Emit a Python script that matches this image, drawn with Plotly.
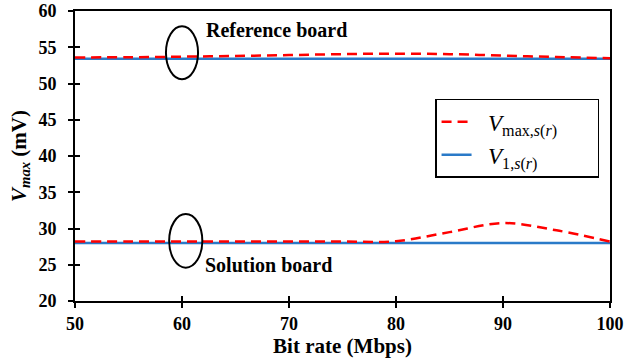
import plotly.graph_objects as go

bit_rate = [50, 55, 60, 65, 70, 75, 80, 85, 90, 95, 100]
ref_vmax = [53.6, 53.62, 53.7, 53.8, 53.92, 54.05, 54.12, 54.05, 53.85, 53.65, 53.5]
ref_v1 = [53.4] * 11
sol_vmax = [28.2, 28.2, 28.2, 28.2, 28.2, 28.2, 28.25, 29.5, 30.75, 29.75, 28.2]
sol_v1 = [28.0] * 11

x_ticks = [50, 60, 70, 80, 90, 100]
y_ticks = [20, 25, 30, 35, 40, 45, 50, 55, 60]

labels = ["Reference board", "Solution board"]
label_pos = [(62.1, 57.4), (62.0, 24.9)]
ellipses = [(58.5, 50.6, 61.5, 57.9), (58.8, 24.6, 61.9, 32.0)]

RED = "#FF0000"
BLUE = "#2A7AC8"
FONT = "Liberation Serif"

fig = go.Figure()
fig.add_trace(go.Scatter(x=bit_rate, y=ref_v1, mode="lines", line=dict(color=BLUE, width=2.5),
                         showlegend=False))
fig.add_trace(go.Scatter(x=bit_rate, y=ref_vmax, mode="lines",
                         line=dict(color=RED, width=2.5, dash="10px,6px", shape="spline"),
                         showlegend=False))
fig.add_trace(go.Scatter(x=bit_rate, y=sol_v1, mode="lines", line=dict(color=BLUE, width=2.5),
                         name="  <i>V</i><sub>1,<i>s</i>(<i>r</i>)</sub>      ", legendrank=2))
fig.add_trace(go.Scatter(x=bit_rate, y=sol_vmax, mode="lines",
                         line=dict(color=RED, width=2.5, dash="10px,6px", shape="spline"),
                         name="  <i>V</i><sub>max,<i>s</i>(<i>r</i>)</sub>      ", legendrank=1))

for (x0, y0, x1, y1) in ellipses:
    fig.add_shape(type="circle", xref="x", yref="y", x0=x0, y0=y0, x1=x1, y1=y1,
                  line=dict(color="black", width=2))

for text, (lx, ly) in zip(labels, label_pos):
    fig.add_annotation(x=lx, y=ly, text="<b>" + text + "</b>", showarrow=False,
                       xanchor="left", yanchor="middle",
                       font=dict(family=FONT, size=20, color="black"))

axis_common = dict(showgrid=False, zeroline=False, linecolor="black", linewidth=2,
                   ticks="outside", ticklen=5, tickwidth=2, tickcolor="black",
                   tickfont=dict(family=FONT, size=18, color="black"),
                   mirror=True, automargin=False)

fig.update_layout(
    width=625, height=363,
    margin=dict(l=75, r=15, t=11, b=62),
    plot_bgcolor="white", paper_bgcolor="white",
    xaxis=dict(range=[50, 100], tickvals=x_ticks,
               ticktext=["<b>%d</b>" % v for v in x_ticks], **axis_common,
               title=dict(text="<b>Bit rate (Mbps)</b>", standoff=4,
                          font=dict(family=FONT, size=21, color="black"))),
    yaxis=dict(range=[20, 60], tickvals=y_ticks,
               ticktext=["<b>%d</b>" % v for v in y_ticks], ticklabelstandoff=8, **axis_common,
               title=dict(text="<b><i>V<sub>max</sub></i> (mV)</b>", standoff=6,
                          font=dict(family=FONT, size=21, color="black"))),
    xaxis2=dict(overlaying="x", range=[50, 100], tickvals=x_ticks, ticks="inside",
                ticklen=5, tickwidth=2, tickcolor="black", showticklabels=False,
                showgrid=False, zeroline=False, showline=False, automargin=False),
    yaxis2=dict(overlaying="y", range=[20, 60], tickvals=y_ticks, ticks="inside",
                ticklen=5, tickwidth=2, tickcolor="black", showticklabels=False,
                showgrid=False, zeroline=False, showline=False, automargin=False),
    legend=dict(x=0.673, y=0.697, xanchor="left", yanchor="top",
                bordercolor="black", borderwidth=1.5, bgcolor="white",
                font=dict(family=FONT, size=23, color="black"),
                itemwidth=30, tracegroupgap=0),
)
fig.add_trace(go.Scatter(x=[50], y=[20], xaxis="x2", yaxis="y2", mode="markers",
                         marker=dict(opacity=0), showlegend=False, hoverinfo="skip"))

fig.write_html("out.html")
